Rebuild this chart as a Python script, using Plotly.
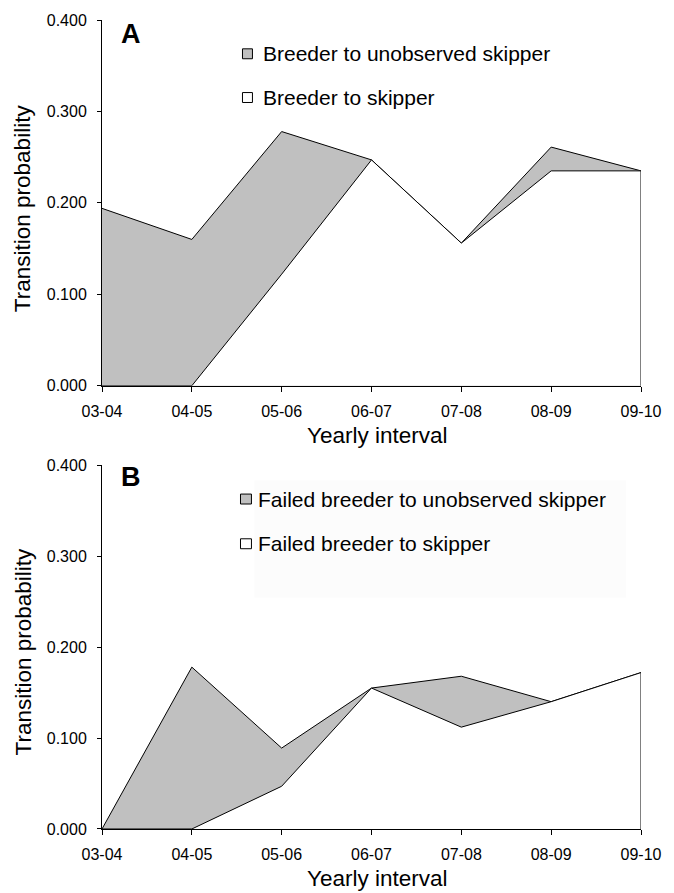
import plotly.graph_objects as go

# ---------------- data ----------------
intervals = ["03-04", "04-05", "05-06", "06-07", "07-08", "08-09", "09-10"]

# Panel A (cumulative, stacked area)
a_unobserved_total = [0.194, 0.160, 0.278, 0.247, 0.156, 0.261, 0.235]   # breeder to unobserved skipper (top)
a_skipper = [0.000, 0.000, 0.122, 0.247, 0.156, 0.235, 0.235]             # breeder to skipper

# Panel B
b_unobserved_total = [0.000, 0.178, 0.089, 0.155, 0.168, 0.140, 0.172]   # failed breeder to unobserved skipper (top)
b_skipper = [0.000, 0.000, 0.047, 0.155, 0.112, 0.140, 0.172]             # failed breeder to skipper

legend_a = ["Breeder to unobserved skipper", "Breeder to skipper"]
legend_b = ["Failed breeder to unobserved skipper", "Failed breeder to skipper"]
y_ticks = [0.0, 0.1, 0.2, 0.3, 0.4]
x_title = "Yearly interval"
y_title = "Transition probability"

# ---------------- layout helpers ----------------
W, H = 674, 893
L, R, T, B = 102, 643, 15, 829   # plot-area pixel bounds (whole figure)
GRAY = "#c0c0c0"
FONT = "Liberation Sans, Arial, sans-serif"


def px(x):
    return (x - L) / (R - L)


def py(y):
    return (B - y) / (B - T)


def closed(xs, ys):
    # close the area outline down to zero at the right end
    return list(xs) + [xs[-1]], list(ys) + [0.0]


fig = go.Figure()

for top, low, xa, ya, names in [
    (a_unobserved_total, a_skipper, "x", "y", legend_a),
    (b_unobserved_total, b_skipper, "x2", "y2", legend_b),
]:
    xs, ys = closed(intervals, top)
    fig.add_trace(go.Scatter(x=xs, y=ys, mode="lines", fill="tozeroy",
                             fillcolor=GRAY, line=dict(color="black", width=1),
                             xaxis=xa, yaxis=ya, name=names[0], showlegend=False,
                             hoverinfo="skip"))
    xs, ys = closed(intervals, low)
    fig.add_trace(go.Scatter(x=xs, y=ys, mode="lines", fill="tozeroy",
                             fillcolor="white", line=dict(color="black", width=1),
                             xaxis=xa, yaxis=ya, name=names[1], showlegend=False,
                             hoverinfo="skip"))

axis_common = dict(showgrid=False, zeroline=False, showline=True, linecolor="black",
                   linewidth=1, ticks="outside", tickcolor="black", tickwidth=1,
                   tickfont=dict(family=FONT, size=16, color="black"))

xcommon = dict(axis_common, type="category", categoryorder="array",
               categoryarray=intervals, range=[0, 6], ticklen=5, ticklabelstandoff=6)
ycommon = dict(axis_common, range=[0, 0.4], tickvals=y_ticks, tickformat=".3f", ticklen=4,
               ticklabelstandoff=7)

dom_a = [py(383), 1.0]
dom_b = [0.0, py(463)]

fig.update_layout(
    width=W, height=H,
    margin=dict(l=L, r=W - R, t=T, b=H - B),
    paper_bgcolor="white", plot_bgcolor="white",
    showlegend=False,
    xaxis=dict(xcommon, domain=[0, 1], anchor="y"),
    yaxis=dict(ycommon, domain=dom_a, anchor="x"),
    xaxis2=dict(xcommon, domain=[0, 1], anchor="y2"),
    yaxis2=dict(ycommon, domain=dom_b, anchor="x2"),
)

shapes = []
annotations = []

# faint backdrop behind legend B (as in the scanned original)
shapes.append(dict(type="rect", xref="paper", yref="paper", layer="below",
                   x0=px(255), x1=px(628), y0=py(596), y1=py(478),
                   fillcolor="#fcfcfc", line=dict(width=0)))

# axis titles (placed as text at measured positions)
for ty_x, ty_y in [(433, 204), (879, 650)]:
    annotations.append(dict(text=x_title, xref="paper", yref="paper",
                            x=px(379), y=py(ty_x), xanchor="center", yanchor="middle",
                            showarrow=False, font=dict(family=FONT, size=22.5, color="black")))
    annotations.append(dict(text=y_title, xref="paper", yref="paper", textangle=-90,
                            x=px(23), y=py(ty_y), xanchor="center", yanchor="middle",
                            showarrow=False, font=dict(family=FONT, size=22.5, color="black")))

# legends (drawn as boxes + text)
legend_items = [
    # (box x0, x1, y0, y1, fill, text x, text y, label)
    (243, 253, 44, 54, GRAY, 262, 49, legend_a[0]),
    (243, 253, 88, 98, "white", 262, 93, legend_a[1]),
    (241, 252, 492, 502, GRAY, 257, 497, legend_b[0]),
    (241, 252, 537, 547, "white", 257, 542, legend_b[1]),
]
for x0, x1, y0, y1, fc, tx, ty, lab in legend_items:
    shapes.append(dict(type="rect", xref="paper", yref="paper",
                       x0=px(x0), x1=px(x1), y0=py(y1), y1=py(y0),
                       fillcolor=fc, line=dict(color="black", width=1)))
    annotations.append(dict(text=lab, xref="paper", yref="paper", x=px(tx), y=py(ty),
                            xanchor="left", yanchor="middle", showarrow=False,
                            font=dict(family=FONT, size=21, color="black")))

# panel letters
for letter, cx, cy in [("A", 131, 29), ("B", 131, 475)]:
    annotations.append(dict(text="<b>%s</b>" % letter, xref="paper", yref="paper",
                            x=px(cx), y=py(cy), xanchor="center", yanchor="middle",
                            showarrow=False, font=dict(family=FONT, size=27, color="black")))

fig.update_layout(shapes=shapes, annotations=annotations)

fig.write_html("out.html")
